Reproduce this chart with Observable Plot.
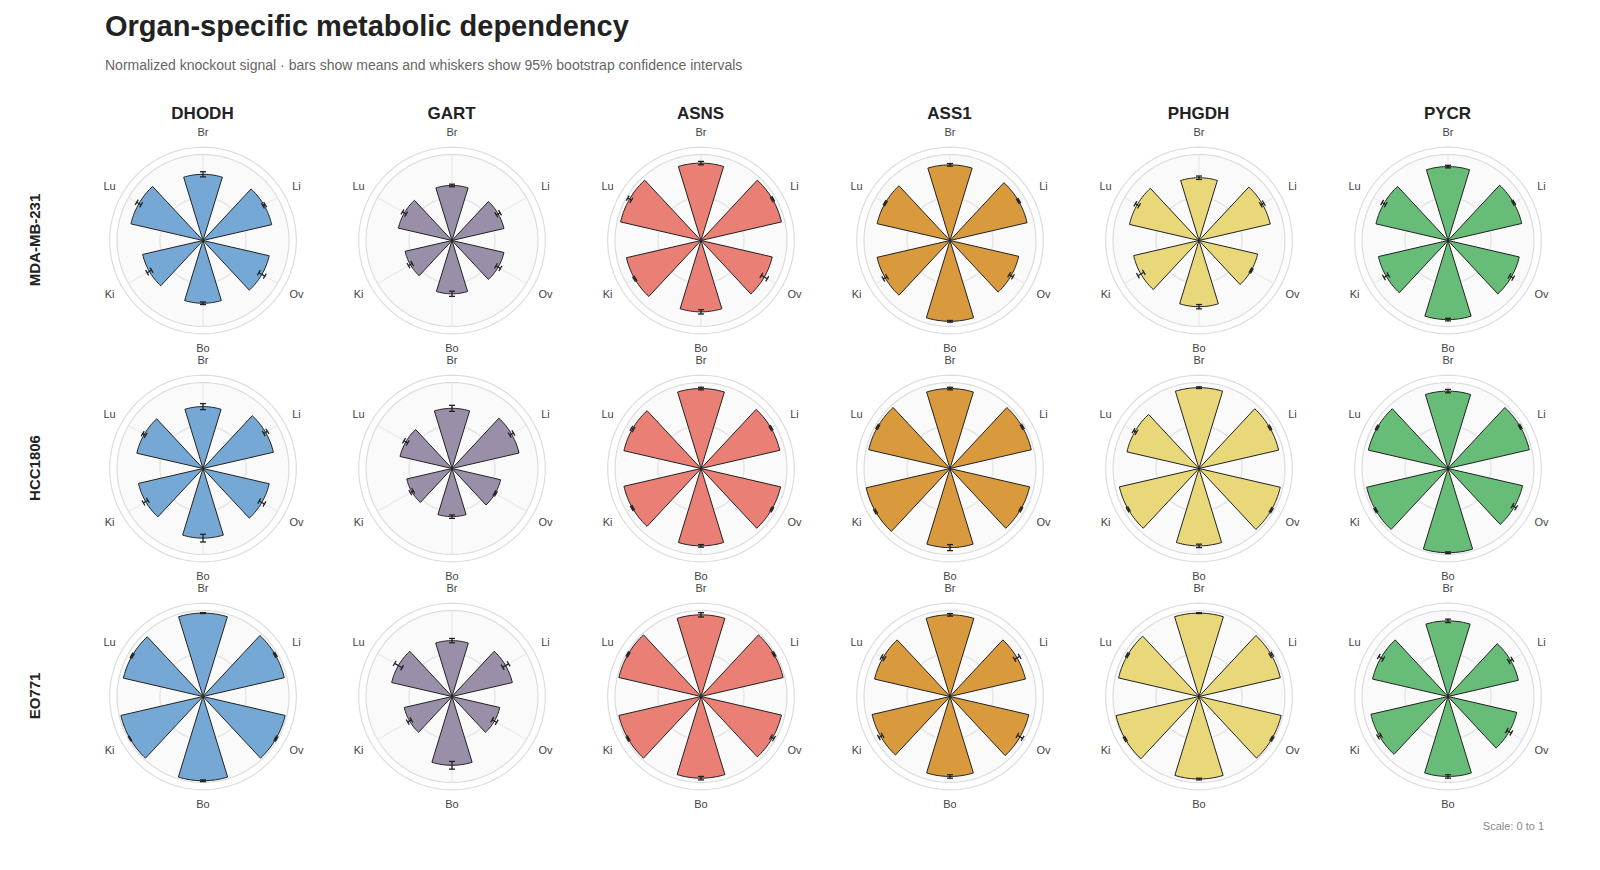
<!DOCTYPE html>
<html><head><meta charset="utf-8">
<script src="https://cdn.jsdelivr.net/npm/d3@7"></script>
<script src="https://cdn.jsdelivr.net/npm/@observablehq/plot@0.6"></script>
<style>
body{margin:0;background:#fff;font-family:"Liberation Sans",Arial,sans-serif;width:1600px;height:870px;position:relative;overflow:hidden}
#t{position:absolute;left:105px;top:10px;font-size:29px;font-weight:bold;color:#222}
#s{position:absolute;left:105px;top:57px;font-size:14px;color:#666}
#g{position:absolute;left:78px;top:126px;display:grid;grid-template-columns:repeat(6,249px);grid-auto-rows:228px}
.ct{position:absolute;top:104px;width:249px;text-align:center;font-size:17px;font-weight:bold;color:#222}
.rl{position:absolute;left:34px;font-size:15px;font-weight:bold;color:#222;transform:translate(-50%,-50%) rotate(-90deg);white-space:nowrap}
#sc{position:absolute;right:56px;top:820px;font-size:11px;color:#888}
</style></head><body>
<div id="t">Organ-specific metabolic dependency</div>
<div id="s">Normalized knockout signal · bars show means and whiskers show 95% bootstrap confidence intervals</div>
<div id="g"></div>
<div id="sc">Scale: 0 to 1</div>
<script>
const genes=["DHODH","GART","ASNS","ASS1","PHGDH","PYCR"];
const lines=["MDA-MB-231","HCC1806","EO771"];
const organs=["Br","Li","Ov","Bo","Ki","Lu"];
const colors=["#76a8d6","#9a8fa8","#ea7f76","#d99a3e","#e8d87a","#67bd77"];
// values[line][gene] = organ means in order Br, Li, Ov, Bo, Ki, Lu
const valsMDA=[[.77,.82,.79,.73,.72,.86],[.64,.62,.62,.62,.56,.64],[.90,.96,.85,.83,.89,.96],[.88,.92,.82,.94,.87,.87],[.73,.85,.70,.77,.78,.83],[.86,.88,.85,.92,.83,.86]];
const valsHCC=[[.72,.84,.79,.81,.77,.79],[.70,.80,.58,.56,.54,.62],[.93,.94,.95,.90,.92,.92],[.93,.97,.95,.92,1.0,.97],[.94,.95,.97,.90,.95,.86],[.90,.97,.89,.98,.97,.95]];
const valsEO=[[.97,.97,.98,.98,.98,.95],[.65,.72,.57,.80,.57,.72],[.95,.98,.96,.95,.98,.98],[.95,.90,.94,.93,.93,.90],[.97,.97,.98,.96,.99,.96],[.88,.84,.82,.93,.92,.90]];
const ciMDA=[[.03,.015,.04,.015,.03,.03],[.015,.025,.03,.03,.025,.025],[.02,.01,.04,.025,.01,.025],[.015,.01,.025,.01,.025,.01],[.02,.02,.01,.025,.04,.025],[.015,.01,.025,.015,.03,.025]];
const ciHCC=[[.035,.025,.035,.045,.03,.02],[.035,.025,.01,.02,.02,.025],[.015,.01,.01,.015,.01,.015],[.015,.01,.01,.035,.01,.01],[.01,.01,.01,.02,.01,.02],[.02,.01,.025,.01,.01,.01]];
const ciEO=[[.005,.01,.01,.01,.005,.01],[.025,.04,.03,.045,.025,.05],[.025,.01,.02,.02,.01,.01],[.015,.035,.035,.02,.025,.02],[.005,.015,.01,.01,.01,.01],[.02,.025,.03,.02,.02,.03]];
const allVals=[valsMDA,valsHCC,valsEO], allCi=[ciMDA,ciHCC,ciEO];

const deg=Math.PI/180, half=17*deg;
const P=(r,a)=>[r*Math.sin(a),r*Math.cos(a)];
function circle(r,id){const pts=[];for(let i=0;i<=120;i++){const [x,y]=P(r,i*3*deg);pts.push({x,y,id});}return pts;}
const grid=document.getElementById("g");
lines.forEach((ln,ri)=>{
  const lab=document.createElement("div");lab.className="rl";lab.textContent=ln;lab.style.top=(240+ri*228)+"px";document.body.appendChild(lab);
  genes.forEach((gn,ci)=>{
    if(ri===0){const t=document.createElement("div");t.className="ct";t.textContent=gn;t.style.left=(78+ci*249)+"px";document.body.appendChild(t);}
    const v=allVals[ri][ci], e=allCi[ri][ci];
    const wedges=[],bars=[],caps=[],spokes=[],labels=[];
    organs.forEach((o,k)=>{
      const a=k*60*deg;
      wedges.push(Object.assign({x:0,y:0,o}));
      for(let j=0;j<=20;j++){const [x,y]=P(v[k],a-half+j*2*half/20);wedges.push({x,y,o});}
      wedges.push({x:0,y:0,o});
      const [x1,y1]=P(v[k]-e[k],a),[x2,y2]=P(Math.min(v[k]+e[k],1.04),a);
      bars.push({x1,y1,x2,y2});
      [v[k]-e[k],Math.min(v[k]+e[k],1.04)].forEach(r=>{const [cx,cy]=P(r,a);const w=0.035;caps.push({x1:cx-w*Math.cos(a),y1:cy+w*Math.sin(a),x2:cx+w*Math.cos(a),y2:cy-w*Math.sin(a)});});
      const [sx,sy]=P(1,a);spokes.push({x1:0,y1:0,x2:sx,y2:sy});
      const [lx,ly]=P(1.255,a);labels.push({x:lx,y:ly,o});
    });
    const bg=circle(1,"bg");
    const chart=Plot.plot({
      width:249,height:228,margin:0,
      x:{domain:[-1.448,1.448],axis:null},y:{domain:[-1.326,1.326],axis:null},
      marks:[
        Plot.line(circle(1.085,"o"),{x:"x",y:"y",stroke:"#ddd",strokeWidth:1.2}),
        Plot.line(bg,{x:"x",y:"y",fill:"#fafafa",stroke:"#ddd",strokeWidth:1.2}),
        Plot.line(circle(0.5,"m"),{x:"x",y:"y",stroke:"#e6e6e6"}),
        Plot.link(spokes,{x1:"x1",y1:"y1",x2:"x2",y2:"y2",stroke:"#e6e6e6"}),
        Plot.line(wedges,{x:"x",y:"y",z:"o",fill:colors[ci],stroke:"#222",strokeWidth:1}),
        Plot.link(bars,{x1:"x1",y1:"y1",x2:"x2",y2:"y2",stroke:"#222",strokeWidth:1.3}),
        Plot.link(caps,{x1:"x1",y1:"y1",x2:"x2",y2:"y2",stroke:"#222",strokeWidth:1.3}),
        Plot.text(labels,{x:"x",y:"y",text:"o",fontSize:11,fill:"#444",fontFamily:"Liberation Sans, Arial"})
      ]
    });
    grid.appendChild(chart);
  });
});
</script></body></html>
